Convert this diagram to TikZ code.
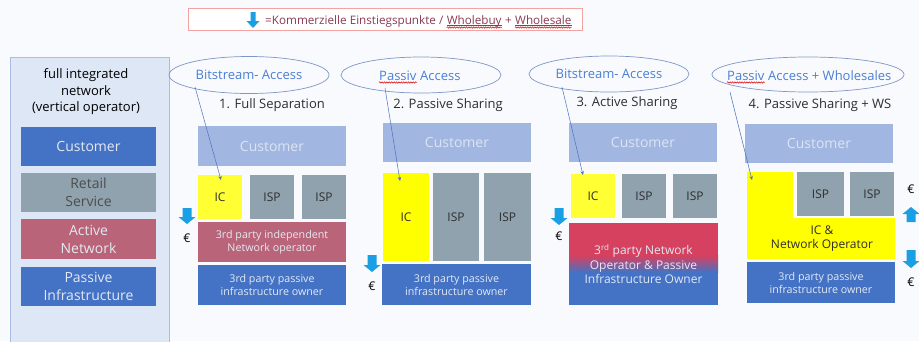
\documentclass[tikz,border=0pt]{standalone}
\usepackage{fontspec}
\setmainfont{Open Sans}
\usetikzlibrary{shapes.geometric,calc,decorations.pathmorphing,arrows.meta}
\definecolor{bgc}{HTML}{F9FAFD}
\definecolor{panelfill}{HTML}{DDE7F5}
\definecolor{panelborder}{HTML}{A8BFE3}
\definecolor{dblue}{HTML}{4472C4}
\definecolor{lblue}{HTML}{A1B7E1}
\definecolor{lbluetxt}{HTML}{DCE4F3}
\definecolor{ispgrey}{HTML}{8FA2AE}
\definecolor{netred}{HTML}{BA6479}
\definecolor{gradred}{HTML}{D5415F}
\definecolor{icyellow}{HTML}{FFFF33}
\definecolor{pureyellow}{HTML}{FFFF00}
\definecolor{arrowblue}{HTML}{1A9FE5}
\definecolor{elltxt}{HTML}{4A7FD3}
\definecolor{ellline}{HTML}{7E96C8}
\definecolor{connblue}{HTML}{4A72C0}
\definecolor{legborder}{HTML}{F4A3A3}
\definecolor{legtxt}{HTML}{8B3A52}
\definecolor{boxtxt}{HTML}{E3E9F3}
\definecolor{darktxt}{HTML}{2E2E2E}
\newcommand\blockdown[3]{%
  \fill[arrowblue] ({#1-4.5},#2) -- ({#1+4.5},#2) -- ({#1+4.5},{#3-7}) -- ({#1+8.5},{#3-7}) -- (#1,#3) -- ({#1-8.5},{#3-7}) -- ({#1-4.5},{#3-7}) -- cycle;}
\newcommand\blockup[3]{%
  \fill[arrowblue] ({#1-4.5},#2) -- ({#1+4.5},#2) -- ({#1+4.5},{#3+7}) -- ({#1+8.5},{#3+7}) -- (#1,#3) -- ({#1-8.5},{#3+7}) -- ({#1-4.5},{#3+7}) -- cycle;}
\begin{document}
\begin{tikzpicture}[x=1pt,y=-1pt,
  bx/.style={inner sep=0pt, outer sep=0pt, align=center},
  darkbox/.style={bx, fill=dblue, text=boxtxt},
  custbox/.style={bx, fill=lblue, text=lbluetxt, font=\fontsize{14}{17}\selectfont},
  ispbox/.style={bx, fill=ispgrey, text=darktxt, font=\fontsize{12}{14}\selectfont},
  icbox/.style={bx, fill=icyellow, text=darktxt, font=\fontsize{12}{14}\selectfont},
  small/.style={font=\fontsize{10.7}{13}\selectfont},
  ell/.style={draw=ellline, line width=0.7pt, ellipse, inner sep=0pt},
  elltext/.style={inner sep=0pt, text=elltxt, font=\fontsize{13}{15}\selectfont},
  title/.style={inner sep=0pt, text=darktxt, font=\fontsize{13}{15}\selectfont},
  euro/.style={inner sep=0pt, text=black, font=\fontsize{12}{14}\selectfont},
  legtext/.style={inner sep=0pt, anchor=base west, text=legtxt, font=\fontsize{11.7}{14}\selectfont},
  conn/.style={draw=connblue, line width=0.5pt, -{Stealth[length=4pt,width=3.5pt]}},
  squiggle/.style={draw=red!85!black, line width=0.5pt, decorate, decoration={snake, amplitude=0.7pt, segment length=2.4pt}}
]
\fill[bgc] (0,0) rectangle (919,341);
\useasboundingbox (0,0) rectangle (919,341);

% legend
\draw[legborder, line width=0.9pt, fill=white] (188,8) rectangle (582,30);
\fill[arrowblue] (250.5,12) -- (255.5,12) -- (255.5,21) -- (259.5,21) -- (253,28) -- (246.5,21) -- (250.5,21) -- cycle;
\node[legtext] (lg1) at (265,24) {=Kommerzielle Einstiegspunkte /\ \null};
\node[legtext] (lg2) at (lg1.base east) {Wholebuy};
\node[legtext] (lg3) at (lg2.base east) {\ +\ \null};
\node[legtext] (lg4) at (lg3.base east) {Wholesale};
\draw[legtxt, line width=0.5pt] ($(lg2.base west)+(0,1.5)$) -- ($(lg2.base east)+(0,1.5)$);
\draw[legtxt, line width=0.5pt] ($(lg4.base west)+(0,1.5)$) -- ($(lg4.base east)+(0,1.5)$);
\path[squiggle] ($(lg2.base west)+(0,3.5)$) -- ($(lg2.base east)+(0,3.5)$);
\path[squiggle] ($(lg4.base west)+(0,3.5)$) -- ($(lg4.base east)+(0,3.5)$);

% left panel
\fill[panelfill] (10,57) rectangle (169,342);
\draw[panelborder, line width=0.8pt] (10,342) -- (10,57) -- (169,57) -- (169,342);
\node[bx, text=black, font=\fontsize{13}{16.5}\selectfont] (ltitle) at (86,92) {full integrated\\network\\(vertical operator)};
\node[darkbox, minimum width=135pt, minimum height=39pt, font=\fontsize{14}{18}\selectfont] (lcust) at (88.5,146.5) {Customer};
\node[bx, fill=ispgrey, text=darktxt!85, minimum width=135pt, minimum height=39pt, font=\fontsize{14}{18}\selectfont] (lret) at (88.5,192.5) {Retail\\Service};
\node[bx, fill=netred, text=boxtxt, minimum width=135pt, minimum height=40pt, font=\fontsize{14}{18}\selectfont] (lact) at (88.5,239) {Active\\Network};
\node[darkbox, minimum width=135pt, minimum height=39pt, font=\fontsize{14}{18}\selectfont] (lpas) at (88.5,286.5) {Passive\\Infrastructure};

% ---------- Section 1
\node[ell, minimum width=160pt, minimum height=37pt] (e1) at (249,75) {};
\node[elltext] (e1t) at (249,75) {Bitstream- Access};
\node[title] (t1) at (272,105) {1. Full Separation};
\node[custbox, minimum width=148pt, minimum height=40pt] (c1) at (272,146) {Customer};
\node[icbox, minimum width=44pt, minimum height=44pt] (ic1) at (220,197) {IC};
\node[ispbox, minimum width=44pt, minimum height=44pt] (isp1a) at (272,197) {ISP};
\node[ispbox, minimum width=44pt, minimum height=44pt] (isp1b) at (324,197) {ISP};
\node[bx, fill=netred, text=boxtxt, small, minimum width=148pt, minimum height=40pt] (net1) at (272,242) {3rd party independent\\Network operator};
\node[darkbox, small, minimum width=148pt, minimum height=40pt] (pas1) at (272,285) {3rd party passive\\infrastructure owner};
\coordinate (s1) at (195,87);
\coordinate (d1) at (221,180);
\draw[conn] (s1) -- (d1);
\blockdown{187}{208}{224}
\node[euro] (eu1) at (187,238) {€};

% ---------- Section 2
\node[ell, minimum width=160pt, minimum height=36pt] (e2) at (421,75) {};
\node[elltext, anchor=base west] (e2a) at (379,80) {Passiv};
\node[elltext, anchor=base west] (e2b) at (e2a.base east) {\ Access};
\path[squiggle] ($(e2a.base west)+(0,2.5)$) -- ($(e2a.base east)+(0,2.5)$);
\node[title] (t2) at (448,105) {2. Passive Sharing};
\node[custbox, minimum width=148pt, minimum height=39pt] (c2) at (457,142.5) {Customer};
\node[icbox, fill=pureyellow, minimum width=46pt, minimum height=88pt] (ic2) at (406,217) {IC};
\node[ispbox, minimum width=46pt, minimum height=88pt] (isp2a) at (456,217) {ISP};
\node[ispbox, minimum width=47pt, minimum height=88pt] (isp2b) at (507.5,217) {ISP};
\node[darkbox, small, minimum width=149pt, minimum height=41pt] (pas2) at (456.5,284.5) {3rd party passive\\infrastructure owner};
\coordinate (s2) at (385,88);
\coordinate (d2) at (400,181);
\draw[conn] (s2) -- (d2);
\blockdown{372}{255}{272}
\node[euro] (eu2) at (372,286) {€};

% ---------- Section 3
\node[ell, minimum width=160pt, minimum height=36pt] (e3) at (609,74) {};
\node[elltext] (e3t) at (609,74) {Bitstream- Access};
\node[title] (t3) at (627,103) {3. Active Sharing};
\node[custbox, minimum width=148pt, minimum height=39pt] (c3) at (643,142.5) {Customer};
\node[icbox, minimum width=44pt, minimum height=44pt] (ic3) at (593,196) {IC};
\node[ispbox, minimum width=44pt, minimum height=44pt] (isp3a) at (644,196) {ISP};
\node[ispbox, minimum width=44pt, minimum height=44pt] (isp3b) at (695,196) {ISP};
\fill[gradred] (569,223) rectangle (718,256);
\shade[top color=gradred, bottom color=dblue] (569,255.5) rectangle (718,272.5);
\fill[dblue] (569,272) rectangle (718,305);
\node[bx, text=boxtxt, font=\fontsize{12}{14.5}\selectfont] (net3) at (643.5,264) {3\textsuperscript{rd} party Network\\Operator \& Passive\\Infrastructure Owner};
\coordinate (s3) at (562,87);
\coordinate (d3) at (583,175);
\draw[conn] (s3) -- (d3);
\blockdown{559}{208}{225}
\node[euro] (eu3) at (559,236) {€};

% ---------- Section 4
\node[ell, minimum width=192pt, minimum height=35pt] (e4) at (808,74.5) {};
\node[elltext, anchor=base west] (e4a) at (727,80) {Passiv};
\node[elltext, anchor=base west] (e4b) at (e4a.base east) {\ Access + Wholesales};
\path[squiggle] ($(e4a.base west)+(0,2.5)$) -- ($(e4a.base east)+(0,2.5)$);
\node[title] (t4) at (820,105) {4. Passive Sharing + WS};
\node[custbox, minimum width=148pt, minimum height=39pt] (c4) at (819,143.5) {Customer};
\fill[pureyellow] (747,172) -- (793,172) -- (793,218) -- (895,218) -- (895,259) -- (747,259) -- cycle;
\node[bx, text=darktxt, font=\fontsize{12}{14}\selectfont] (ic4) at (822,238.5) {IC \&\\Network Operator};
\node[ispbox, minimum width=47pt, minimum height=44pt] (isp4a) at (820.5,194) {ISP};
\node[ispbox, minimum width=44pt, minimum height=44pt] (isp4b) at (872,194) {ISP};
\node[darkbox, small, minimum width=148pt, minimum height=41pt] (pas4) at (821,282.5) {3rd party passive\\infrastructure owner};
\coordinate (s4) at (730,92);
\coordinate (d4) at (752,180);
\draw[conn] (s4) -- (d4);
\node[euro] (eu4a) at (911,189) {€};
\blockup{911}{222}{207}
\blockdown{911}{250}{268}
\node[euro] (eu4b) at (911,282) {€};
\end{tikzpicture}
\end{document}
